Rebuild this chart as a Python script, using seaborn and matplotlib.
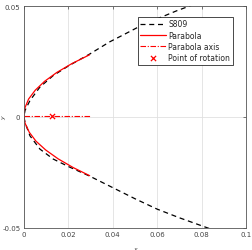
import matplotlib
matplotlib.use("Agg")
import matplotlib.pyplot as plt
import seaborn as sns
import numpy as np

# S809 leading-edge outline (upper then lower surface)
s809_upper_x = [0.0, 0.0005, 0.0027, 0.0072, 0.0132, 0.0203, 0.0296, 0.0386, 0.0452, 0.0521, 0.0600, 0.0687, 0.0760, 0.0850, 0.1000]
s809_upper_y = [0.0, 0.0029, 0.0073, 0.0134, 0.0186, 0.0231, 0.0283, 0.0338, 0.0372, 0.0408, 0.0442, 0.0478, 0.0505, 0.0535, 0.0580]
s809_lower_x = [0.0, 0.0005, 0.0027, 0.0072, 0.0132, 0.0203, 0.0296, 0.0400, 0.0500, 0.0600, 0.0700, 0.0800, 0.0900, 0.1000]
s809_lower_y = [0.0, -0.0026, -0.0086, -0.0146, -0.0191, -0.0226, -0.0268, -0.0320, -0.0370, -0.0417, -0.0456, -0.0492, -0.0528, -0.0560]

# Fitted parabola points
parabola_y = [0.028, 0.024, 0.020, 0.016, 0.012, 0.008, 0.004, 0.002, 0.0007, -0.001, -0.003, -0.007, -0.011, -0.015, -0.019, -0.023, -0.0266]
parabola_x = [0.0296, 0.0216, 0.0148, 0.0093, 0.0051, 0.0021, 0.00043, 0.000067, 0.0, 0.000115, 0.00054, 0.0024, 0.0054, 0.0098, 0.0154, 0.0223, 0.0296]

# Parabola axis and point of rotation
axis_x = [0.0, 0.0296]
axis_y = [0.0005, 0.0005]
rot_x = [0.0126]
rot_y = [0.0005]

x_ticks = [0, 0.02, 0.04, 0.06, 0.08, 0.1]
x_tick_labels = ["0", "0.02", "0.04", "0.06", "0.08", "0.1"]
y_ticks = [-0.05, 0, 0.05]
y_tick_labels = ["-0.05", "0", "0.05"]

sns.set_style("white")
plt.rcParams['font.family'] = ['DejaVu Sans']

fig = plt.figure(figsize=(2.52, 2.51), dpi=100)
ax = fig.add_axes([0.095, 0.0896, 0.881, 0.8825])

s809_x = s809_upper_x[::-1] + s809_lower_x[1:]
s809_y = s809_upper_y[::-1] + s809_lower_y[1:]

sns.lineplot(x=s809_x, y=s809_y, sort=False, estimator=None, ax=ax,
             color="black", linestyle=(0, (4, 3)), linewidth=0.9, label="S809")
sns.lineplot(x=parabola_x, y=parabola_y, sort=False, estimator=None, ax=ax,
             color="#ff0000", linewidth=0.9, label="Parabola")
sns.lineplot(x=axis_x, y=axis_y, sort=False, estimator=None, ax=ax,
             color="#ff0000", linestyle=(0, (5, 1.5, 1, 1.5)), linewidth=0.8, label="Parabola axis")
sns.scatterplot(x=rot_x, y=rot_y, ax=ax, color="#ff0000", marker="x", s=14,
                linewidth=0.9, label="Point of rotation", zorder=5)

ax.set_xlim(0, 0.1)
ax.set_ylim(-0.05, 0.05)
ax.set_xticks(x_ticks)
ax.set_xticklabels(x_tick_labels)
ax.set_yticks(y_ticks)
ax.set_yticklabels(y_tick_labels)
ax.grid(True, color="#e0e0e0", linewidth=0.6)
ax.set_axisbelow(True)
ax.tick_params(axis="both", direction="in", length=2.5, width=0.5, labelsize=5,
               colors="#444444", top=True, right=True, pad=2.5)
for sp in ax.spines.values():
    sp.set_color("#555555")
    sp.set_linewidth(0.6)

ax.set_xlabel("x", fontsize=4.5, color="#444444", fontstyle="italic")
ax.xaxis.set_label_coords(0.5, -0.085)
ax.set_ylabel("y", fontsize=4.5, color="#444444", fontstyle="italic")
ax.yaxis.set_label_coords(-0.08, 0.5)

leg = ax.legend(loc="upper right", bbox_to_anchor=(0.94, 0.95), fontsize=5.5,
                frameon=True, fancybox=False, edgecolor="black", framealpha=1,
                handlelength=3.4, handletextpad=0.3, borderpad=0.3,
                labelspacing=0.3, borderaxespad=0)
leg.get_frame().set_linewidth(0.5)

fig.savefig("out.png", dpi=100)
